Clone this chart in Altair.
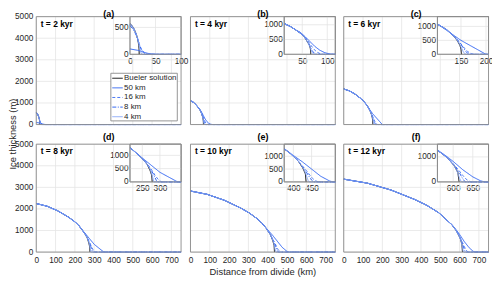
import altair as alt
import pandas as pd

# ---------------- data ----------------
T_KYR = [2, 4, 6, 8, 10, 12]
TAGS = ["(a)", "(b)", "(c)", "(d)", "(e)", "(f)"]
SERIES = ["Bueler solution", "50 km", "16 km", "8 km", "4 km"]

MAIN_X_DOMAIN = [0, 750]
MAIN_Y_DOMAIN = [0, 5000]
MAIN_X_TICKS = [0, 100, 200, 300, 400, 500, 600, 700]
MAIN_Y_TICKS = [0, 1000, 2000, 3000, 4000, 5000]

INSET_X_DOMAIN = [[0, 100], [14, 116], [103, 205], [215, 360], [375, 515], [560, 690]]
INSET_Y_DOMAIN = [[0, 700], [0, 1275], [0, 1350], [0, 1420], [0, 1470], [0, 1510]]
INSET_X_TICKS = [[0, 50, 100], [50, 100], [150, 200], [250, 300], [400, 450], [600, 650]]
INSET_Y_TICKS = [[0, 500], [0, 500, 1000], [0, 500, 1000], [0, 500, 1000], [0, 500, 1000], [0, 1000]]

# Bueler solution profiles (distance km, thickness m)
BUELER_X_2 = [0, 3.6, 7.2, 10.8, 12.6, 14.4, 16.2, 17.1, 17.6, 17.9, 18]
BUELER_H_2 = [570, 539, 485, 410, 365, 308, 222, 165, 108, 63, 0]
BUELER_X_4 = [0, 14, 27, 40, 47, 54, 60, 64, 66, 66.7, 67]
BUELER_H_4 = [1100, 1040, 935, 792, 704, 594, 429, 319, 209, 121, 0]
BUELER_X_6 = [0, 30, 60, 91, 103, 121, 136, 143, 148, 150, 151]
BUELER_H_6 = [1650, 1559, 1403, 1188, 1080, 891, 644, 479, 314, 182, 0]
BUELER_X_8 = [0, 56, 111, 167, 195, 215, 222, 250, 264, 272, 276.6, 278]
BUELER_H_8 = [2250, 2126, 1913, 1620, 1440, 1280, 1215, 878, 653, 428, 248, 0]
BUELER_X_10 = [0, 87, 174, 261, 305, 348, 375, 392, 413, 426, 433, 435]
BUELER_H_10 = [2830, 2674, 2406, 2038, 1811, 1528, 1290, 1104, 821, 538, 311, 0]
BUELER_X_12 = [0, 123, 246, 369, 431, 492, 554, 560, 584, 603, 612, 615]
BUELER_H_12 = [3380, 3194, 2873, 2434, 2163, 1825, 1318, 1270, 980, 642, 372, 0]

# numerical solutions near / beyond the margin (distance km, thickness m)
TOE_2_50 = [(0, 100), (15, 75), (25, 45), (35, 18), (45, 4), (55, 0), (750, 0)]
TOE_2_16 = [(0, 555), (8, 470), (14, 330), (18, 200), (22, 100), (28, 30), (34, 0), (750, 0)]
TOE_2_8 = [(0, 530), (6, 470), (12, 360), (17, 220), (22, 90), (27, 20), (30, 0), (750, 0)]
TOE_2_4 = [(15.5, 270), (17.5, 190), (19.5, 90), (22, 20), (24, 0), (750, 0)]

TOE_4_50 = [(45, 760), (55, 610), (65, 440), (75, 270), (85, 140), (95, 55), (105, 12), (115, 0), (750, 0)]
TOE_4_16 = [(56, 570), (62, 440), (68, 290), (74, 160), (80, 70), (86, 20), (92, 0), (750, 0)]
TOE_4_8 = [(58, 520), (62, 400), (66, 250), (70, 120), (74, 40), (78, 5), (81, 0), (750, 0)]
TOE_4_4 = [(62, 380), (65, 270), (67.5, 150), (70, 60), (73, 10), (75, 0), (750, 0)]

TOE_6_50 = [(103, 1090), (150, 500), (200, 0), (750, 0)]
TOE_6_16 = [(136, 660), (145, 480), (152, 330), (158, 200), (164, 90), (170, 25), (176, 0), (750, 0)]
TOE_6_8 = [(140, 570), (148, 400), (154, 250), (159, 120), (163, 40), (166, 0), (750, 0)]
TOE_6_4 = [(143, 490), (148, 340), (152, 190), (155, 80), (158, 15), (160, 0), (750, 0)]

TOE_8_50 = [(215, 1290), (250, 900), (300, 360), (350, 0), (750, 0)]
TOE_8_16 = [(255, 820), (268, 600), (278, 420), (286, 250), (294, 110), (300, 30), (306, 0), (750, 0)]
TOE_8_8 = [(262, 700), (272, 510), (280, 330), (286, 160), (290, 50), (293, 0), (750, 0)]
TOE_8_4 = [(266, 620), (273, 440), (278, 250), (281, 90), (283, 0), (750, 0)]

TOE_10_50 = [(375, 1300), (400, 1030), (425, 780), (450, 500), (475, 220), (500, 30), (510, 0), (750, 0)]
TOE_10_16 = [(413, 830), (425, 620), (436, 440), (445, 270), (453, 130), (461, 40), (469, 0), (750, 0)]
TOE_10_8 = [(418, 730), (428, 540), (437, 350), (444, 190), (450, 70), (455, 0), (750, 0)]
TOE_10_4 = [(420, 690), (428, 510), (434, 330), (438, 150), (441, 40), (443, 0), (750, 0)]

TOE_12_50 = [(560, 1280), (580, 1060), (600, 820), (625, 480), (650, 200), (670, 40), (680, 0), (750, 0)]
TOE_12_16 = [(592, 860), (605, 640), (616, 430), (625, 250), (633, 110), (640, 30), (646, 0), (750, 0)]
TOE_12_8 = [(596, 780), (607, 570), (616, 360), (622, 190), (627, 70), (631, 0), (750, 0)]
TOE_12_4 = [(600, 700), (608, 500), (613, 300), (617, 120), (620, 30), (622, 0), (750, 0)]

BUELER_X = [BUELER_X_2, BUELER_X_4, BUELER_X_6, BUELER_X_8, BUELER_X_10, BUELER_X_12]
BUELER_H = [BUELER_H_2, BUELER_H_4, BUELER_H_6, BUELER_H_8, BUELER_H_10, BUELER_H_12]
TOES = [
    [TOE_2_50, TOE_2_16, TOE_2_8, TOE_2_4],
    [TOE_4_50, TOE_4_16, TOE_4_8, TOE_4_4],
    [TOE_6_50, TOE_6_16, TOE_6_8, TOE_6_4],
    [TOE_8_50, TOE_8_16, TOE_8_8, TOE_8_4],
    [TOE_10_50, TOE_10_16, TOE_10_8, TOE_10_4],
    [TOE_12_50, TOE_12_16, TOE_12_8, TOE_12_4],
]

rows = []
for p in range(len(T_KYR)):
    bx, bh = BUELER_X[p], BUELER_H[p]
    for x, h in zip(bx, bh):
        rows.append({"panel": p, "series": SERIES[0], "x": x, "h": h})
    for name, toe in zip(SERIES[1:], TOES[p]):
        start = toe[0][0]
        for x, h in zip(bx, bh):
            if x < start:
                rows.append({"panel": p, "series": name, "x": x, "h": h})
        for x, h in toe:
            rows.append({"panel": p, "series": name, "x": x, "h": h})
df = pd.DataFrame(rows)

# ---------------- style / layout ----------------
FONT = "Liberation Sans"
TXT = "#262626"
GRID = "#e4e4e4"
BOX = "#8a8a8a"
COLORS = ["#000000", "#3366f2", "#4a78f5", "#3366f2", "#86a6f8"]
DASHES = [[1, 0], [1, 0], [3, 2], [4, 1.5, 1, 1.5], [1, 0]]
WIDTHS = [1.0, 1.0, 1.0, 1.0, 0.7]

CW, CH = 488, 270
COL_X = [28.5, 184, 338.5]
ROW_Y = [7.6, 136.2]
PW, PH = 146, 108.8
IN_DX, IN_W, IN_H = 94.5, 51.5, 38

color_enc = alt.Color("series:N", scale=alt.Scale(domain=SERIES, range=COLORS), legend=None)
dash_enc = alt.StrokeDash("series:N", scale=alt.Scale(domain=SERIES, range=DASHES), legend=None)
width_enc = alt.StrokeWidth("series:N", scale=alt.Scale(domain=SERIES, range=WIDTHS), legend=None)

one = pd.DataFrame({"k": [0]})


def axis_common(**kw):
    return alt.Axis(ticks=False, domain=False, grid=False, title=None, labelFont=FONT,
                    labelColor=TXT, labelFlush=False, labelOverlap=False, **kw)


layers = []
for p in range(len(T_KYR)):
    r, c = divmod(p, 3)
    x0, y0 = COL_X[c], ROW_Y[r]
    xs = alt.Scale(domain=MAIN_X_DOMAIN, range=[x0, x0 + PW], nice=False, zero=False)
    ys = alt.Scale(domain=MAIN_Y_DOMAIN, range=[y0 + PH, y0], nice=False, zero=False)

    layers.append(alt.Chart(pd.DataFrame({"v": MAIN_X_TICKS})).mark_rule(color=GRID, strokeWidth=0.8).encode(
        x=alt.X("v:Q", scale=xs, axis=None), y=alt.value(y0), y2=alt.value(y0 + PH)))
    layers.append(alt.Chart(pd.DataFrame({"v": MAIN_Y_TICKS})).mark_rule(color=GRID, strokeWidth=0.8).encode(
        y=alt.Y("v:Q", scale=ys, axis=None), x=alt.value(x0), x2=alt.value(x0 + PW)))

    xaxis = axis_common(orient="bottom", offset=y0 + PH - CH, values=MAIN_X_TICKS,
                        labelFontSize=8.3, labelPadding=3) if r == 1 else None
    yaxis = axis_common(orient="left", offset=-x0, values=MAIN_Y_TICKS, format="d",
                        labelFontSize=8.3, labelPadding=3.5) if c == 0 else None
    layers.append(alt.Chart(df).transform_filter(alt.datum.panel == p).mark_line().encode(
        x=alt.X("x:Q", scale=xs, axis=xaxis), y=alt.Y("h:Q", scale=ys, axis=yaxis),
        color=color_enc, strokeDash=dash_enc, strokeWidth=width_enc))

    layers.append(alt.Chart(one).mark_rect(fillOpacity=0, stroke=BOX, strokeWidth=0.9).encode(
        x=alt.value(x0), x2=alt.value(x0 + PW), y=alt.value(y0), y2=alt.value(y0 + PH)))

    layers.append(alt.Chart(pd.DataFrame({"lab": [f"t = {T_KYR[p]} kyr"]})).mark_text(
        align="left", baseline="middle", font=FONT, fontSize=8.5, fontWeight="bold", color="#000000").encode(
        x=alt.value(x0 + 4.5), y=alt.value(y0 + 7), text="lab:N"))
    layers.append(alt.Chart(pd.DataFrame({"lab": [TAGS[p]]})).mark_text(
        align="center", baseline="middle", font=FONT, fontSize=9, fontWeight="bold", color="#000000").encode(
        x=alt.value(x0 + PW / 2), y=alt.value(max(y0 - 7.7, 4.6)), text="lab:N"))

    # inset
    ix0, ix1 = x0 + IN_DX, x0 + PW
    iy0, iy1 = y0, y0 + IN_H
    ixs = alt.Scale(domain=INSET_X_DOMAIN[p], range=[ix0, ix1], nice=False, zero=False, clamp=True)
    iys = alt.Scale(domain=INSET_Y_DOMAIN[p], range=[iy1, iy0], nice=False, zero=False)
    layers.append(alt.Chart(one).mark_rect(fill="white", stroke=BOX, strokeWidth=0.9).encode(
        x=alt.value(ix0), x2=alt.value(ix1), y=alt.value(iy0), y2=alt.value(iy1)))
    layers.append(alt.Chart(pd.DataFrame({"v": INSET_X_TICKS[p]})).mark_rule(color=GRID, strokeWidth=0.8).encode(
        x=alt.X("v:Q", scale=ixs, axis=None), y=alt.value(iy0), y2=alt.value(iy1)))
    layers.append(alt.Chart(pd.DataFrame({"v": INSET_Y_TICKS[p]})).mark_rule(color=GRID, strokeWidth=0.8).encode(
        y=alt.Y("v:Q", scale=iys, axis=None), x=alt.value(ix0), x2=alt.value(ix1)))
    ixaxis = axis_common(orient="bottom", offset=iy1 - CH, values=INSET_X_TICKS[p],
                         labelFontSize=8.3, labelPadding=2)
    iyaxis = axis_common(orient="left", offset=-ix0, values=INSET_Y_TICKS[p], format="d",
                         labelFontSize=8.3, labelPadding=2)
    layers.append(alt.Chart(df).transform_filter(
        (alt.datum.panel == p) & (alt.datum.x >= INSET_X_DOMAIN[p][0])).mark_line().encode(
        x=alt.X("x:Q", scale=ixs, axis=ixaxis), y=alt.Y("h:Q", scale=iys, axis=iyaxis),
        color=color_enc, strokeDash=dash_enc, strokeWidth=width_enc))
    layers.append(alt.Chart(one).mark_rect(fillOpacity=0, stroke=BOX, strokeWidth=0.9).encode(
        x=alt.value(ix0), x2=alt.value(ix1), y=alt.value(iy0), y2=alt.value(iy1)))

# legend (drawn inside panel (a))
LX, LY, LW, LH = 103.7, 64.7, 67, 48
LSTEP = 9.7
leg = pd.DataFrame({"series": SERIES, "idx": list(range(len(SERIES)))})
lys = alt.Scale(domain=[0, len(SERIES) - 1], range=[LY + 5, LY + 5 + LSTEP * (len(SERIES) - 1)], nice=False, zero=False)
layers.append(alt.Chart(one).mark_rect(fill="white", stroke=BOX, strokeWidth=0.9).encode(
    x=alt.value(LX), x2=alt.value(LX + LW), y=alt.value(LY), y2=alt.value(LY + LH)))
layers.append(alt.Chart(leg).mark_rule().encode(
    x=alt.value(LX + 1.5), x2=alt.value(LX + 12), y=alt.Y("idx:Q", scale=lys, axis=None),
    color=color_enc, strokeDash=dash_enc, strokeWidth=width_enc))
layers.append(alt.Chart(leg).mark_text(align="left", baseline="middle", font=FONT, fontSize=8, color=TXT).encode(
    x=alt.value(LX + 13.3), y=alt.Y("idx:Q", scale=lys, axis=None), text="series:N"))

# shared axis titles
layers.append(alt.Chart(pd.DataFrame({"lab": ["Ice thickness (m)"]})).mark_text(
    align="center", baseline="middle", angle=270, font=FONT, fontSize=9.5, color=TXT).encode(
    x=alt.value(5.5), y=alt.value(126), text="lab:N"))
layers.append(alt.Chart(pd.DataFrame({"lab": ["Distance from divide (km)"]})).mark_text(
    align="center", baseline="middle", font=FONT, fontSize=9.5, color=TXT).encode(
    x=alt.value(COL_X[1] + PW / 2), y=alt.value(265), text="lab:N"))

chart = alt.layer(*layers).resolve_scale(x="independent", y="independent").properties(
    width=CW, height=CH, padding=0, autosize=alt.AutoSizeParams(type="none")
).configure_view(stroke=None)

chart.save("out.html", embed_options={"renderer": "svg", "actions": False})
